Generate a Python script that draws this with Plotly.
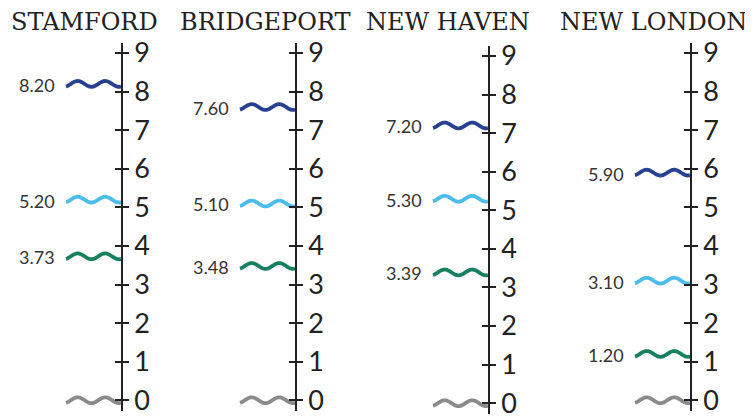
import numpy as np
import plotly.graph_objects as go

# ---- data ----
cities = ["STAMFORD", "BRIDGEPORT", "NEW HAVEN", "NEW LONDON"]
series_dark_blue = [8.20, 7.60, 7.20, 5.90]
series_light_blue = [5.20, 5.10, 5.30, 3.10]
series_green = [3.73, 3.48, 3.39, 1.20]
series_baseline = [0.0, 0.0, 0.0, 0.0]
tick_values = [0, 1, 2, 3, 4, 5, 6, 7, 8, 9]
tick_labels = ["0", "1", "2", "3", "4", "5", "6", "7", "8", "9"]

# ---- styling / layout geometry (reference pixel coords) ----
W, H = 753, 419
OFF = 8  # default page body margin
FW, FH = W - OFF, H - OFF
MT = 43 - OFF
MB = 1
PLOT_H = FH - MT - MB
axis_px = [121, 295, 488, 690]
title_px = [84, 265, 448, 653]
y_shift_px = [0, 0, 3, 0]
PANEL_W = 100
WAVE_W = 55
colors = {
    "dark": "#27408f",
    "light": "#4cbde9",
    "green": "#17805f",
    "gray": "#8a8a8a",
}
Y_RANGE = [-0.28, 9.26]
AMP = 0.075


def px_x(p):
    return (p - OFF) / FW


fig = go.Figure()

t = np.linspace(0, 1, 80)
phase = 2 * np.pi * 2 * t - 1.1


def wave(v):
    return v + AMP * np.sin(phase)


layout = dict(
    width=FW, height=FH,
    margin=dict(l=0, r=0, t=MT, b=MB, pad=0),
    plot_bgcolor="white", paper_bgcolor="white",
    showlegend=False,
)

annotations = []
series_list = [
    (series_baseline, "gray", False),
    (series_green, "green", True),
    (series_light_blue, "light", True),
    (series_dark_blue, "dark", True),
]

for i, city in enumerate(cities):
    n = i + 1
    xa = "x" if n == 1 else f"x{n}"
    ya = "y" if n == 1 else f"y{n}"
    m = n + 4
    ya_over = f"y{m}"
    left = px_x(axis_px[i] - PANEL_W)
    right = px_x(axis_px[i])
    xrange = [-(PANEL_W - WAVE_W) / WAVE_W, 1.0]
    yd0 = (3 - y_shift_px[i]) / PLOT_H
    yd1 = 1 - y_shift_px[i] / PLOT_H
    layout["xaxis" if n == 1 else f"xaxis{n}"] = dict(
        domain=[left, right], range=xrange, visible=False,
        anchor=ya, fixedrange=True,
    )
    layout["yaxis" if n == 1 else f"yaxis{n}"] = dict(
        domain=[yd0, yd1], range=Y_RANGE, anchor=xa, side="right",
        showline=True, linecolor="#222222", linewidth=1.5,
        ticks="outside", ticklen=6, tickwidth=1.5, tickcolor="#222222",
        tickvals=tick_values, ticktext=tick_labels,
        ticklabeloverflow="allow",
        tickfont=dict(family="Lato", size=27, color="#222222"),
        showgrid=False, zeroline=False, fixedrange=True,
    )
    # overlay axis for the inner half of the crossing ticks
    layout[f"yaxis{m}"] = dict(
        overlaying=ya, range=Y_RANGE, anchor=xa, side="right",
        showline=False, ticks="inside", ticklen=6, tickwidth=1.5,
        tickcolor="#222222", tickvals=tick_values, showticklabels=False,
        showgrid=False, zeroline=False, fixedrange=True,
    )
    # invisible trace so the overlay axis gets drawn
    fig.add_trace(go.Scatter(
        x=t, y=wave(series_baseline[i]), mode="lines", xaxis=xa, yaxis=ya_over,
        line=dict(color="rgba(0,0,0,0)", width=0), hoverinfo="skip",
    ))

    for vals, ckey, labelled in series_list:
        v = vals[i]
        fig.add_trace(go.Scatter(
            x=t, y=wave(v), mode="lines", xaxis=xa, yaxis=ya,
            line=dict(color=colors[ckey], width=3.8, shape="spline"),
            hoverinfo="skip",
        ))
        if labelled:
            annotations.append(dict(
                x=-0.17, y=v, xref=xa, yref=ya, xanchor="right",
                yanchor="middle", yshift=-1, text=f"{v:.2f}", showarrow=False,
                font=dict(family="Lato", size=18, color="#333333"),
            ))

    annotations.append(dict(
        x=px_x(title_px[i]), y=1, xref="paper", yref="paper",
        xanchor="center", yanchor="middle", yshift=43 - 22,
        text=city, showarrow=False,
        font=dict(family="DejaVu Serif", size=24, color="#222222"),
    ))

layout["annotations"] = annotations
fig.update_layout(**layout)
fig.write_html("out.html")
